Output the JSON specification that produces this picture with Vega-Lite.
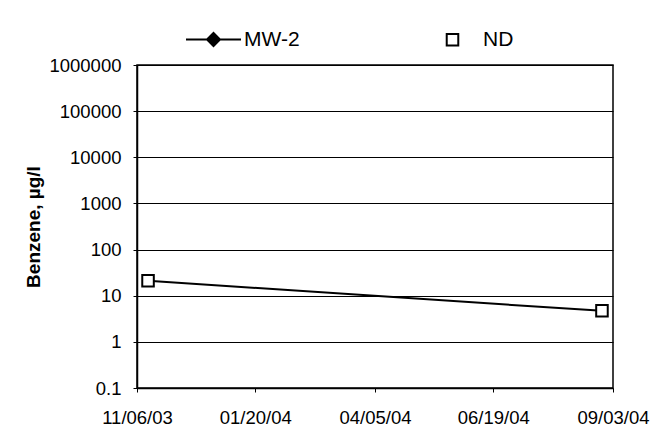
{
  "$schema": "https://vega.github.io/schema/vega-lite/v6.json",
  "autosize": "none",
  "width": 476,
  "height": 323,
  "padding": {"left": 137, "top": 65, "right": 50, "bottom": 54},
  "background": "white",
  "config": {
    "view": {"stroke": "black", "strokeWidth": 1.5},
    "axis": {
      "labelFont": "Liberation Sans",
      "labelFontSize": 18.5,
      "labelColor": "black",
      "domainColor": "black",
      "domainWidth": 1.5,
      "tickColor": "black",
      "titleFont": "Liberation Sans",
      "titleColor": "black"
    }
  },
  "data": {
    "values": [
      {"date": "2003-11-13", "benzene": 21, "type": "ND"},
      {"date": "2004-08-27", "benzene": 4.7, "type": "ND"}
    ]
  },
  "layer": [
    {
      "mark": {"type": "line", "color": "black", "strokeWidth": 2},
      "encoding": {
        "x": {
          "field": "date",
          "type": "temporal",
          "scale": {"type": "utc", "domain": ["2003-11-06", "2004-09-03"], "nice": false},
          "axis": {
            "title": null,
            "grid": false,
            "values": [
              {"year": 2003, "month": 11, "date": 6, "utc": true},
              {"year": 2004, "month": 1, "date": 20, "utc": true},
              {"year": 2004, "month": 4, "date": 5, "utc": true},
              {"year": 2004, "month": 6, "date": 19, "utc": true},
              {"year": 2004, "month": 9, "date": 3, "utc": true}
            ],
            "labelExpr": "utcFormat(datum.value, '%m/%d/%y')",
            "tickSize": 4,
            "labelPadding": 16,
            "labelOverlap": false,
            "labelFlush": false
          }
        },
        "y": {
          "field": "benzene",
          "type": "quantitative",
          "scale": {"type": "log", "domain": [0.1, 1000000], "nice": false},
          "axis": {
            "title": "Benzene, µg/l",
            "titleFontSize": 19,
            "titleFontWeight": "bold",
            "titlePadding": 5,
            "grid": true,
            "gridColor": "black",
            "gridWidth": 1,
            "values": [0.1, 1, 10, 100, 1000, 10000, 100000, 1000000],
            "labelExpr": "datum.value < 1 ? '0.1' : format(datum.value, 'd')",
            "tickSize": 4,
            "labelPadding": 12
          }
        }
      }
    },
    {
      "mark": {"type": "square", "color": "white", "size": 121, "opacity": 1},
      "encoding": {
        "x": {"field": "date", "type": "temporal"},
        "y": {"field": "benzene", "type": "quantitative"}
      }
    },
    {
      "mark": {"type": "point", "filled": false, "color": "black", "size": 3025, "strokeWidth": 2, "opacity": 1},
      "encoding": {
        "x": {"field": "date", "type": "temporal"},
        "y": {"field": "benzene", "type": "quantitative"},
        "shape": {
          "field": "type",
          "type": "nominal",
          "scale": {
            "domain": ["MW-2", "ND"],
            "range": [
              "M-1,0L1,0M-0.236,0L0,-0.236L0.236,0L0,0.236ZM-0.16,0L0,-0.16L0.16,0L0,0.16ZM-0.085,0L0,-0.085L0.085,0L0,0.085ZM0,-0.03L0,0.03",
              "M-0.21,-0.21L0.21,-0.21L0.21,0.21L-0.21,0.21Z"
            ]
          },
          "legend": {
            "title": null,
            "orient": "none",
            "legendX": 48,
            "legendY": -54,
            "direction": "horizontal",
            "symbolSize": 3025,
            "symbolStrokeWidth": 2,
            "labelFont": "Liberation Sans",
            "labelFontSize": 21,
            "labelColor": "black",
            "labelOffset": 2,
            "columnPadding": 124,
            "padding": 0
          }
        }
      }
    }
  ]
}
